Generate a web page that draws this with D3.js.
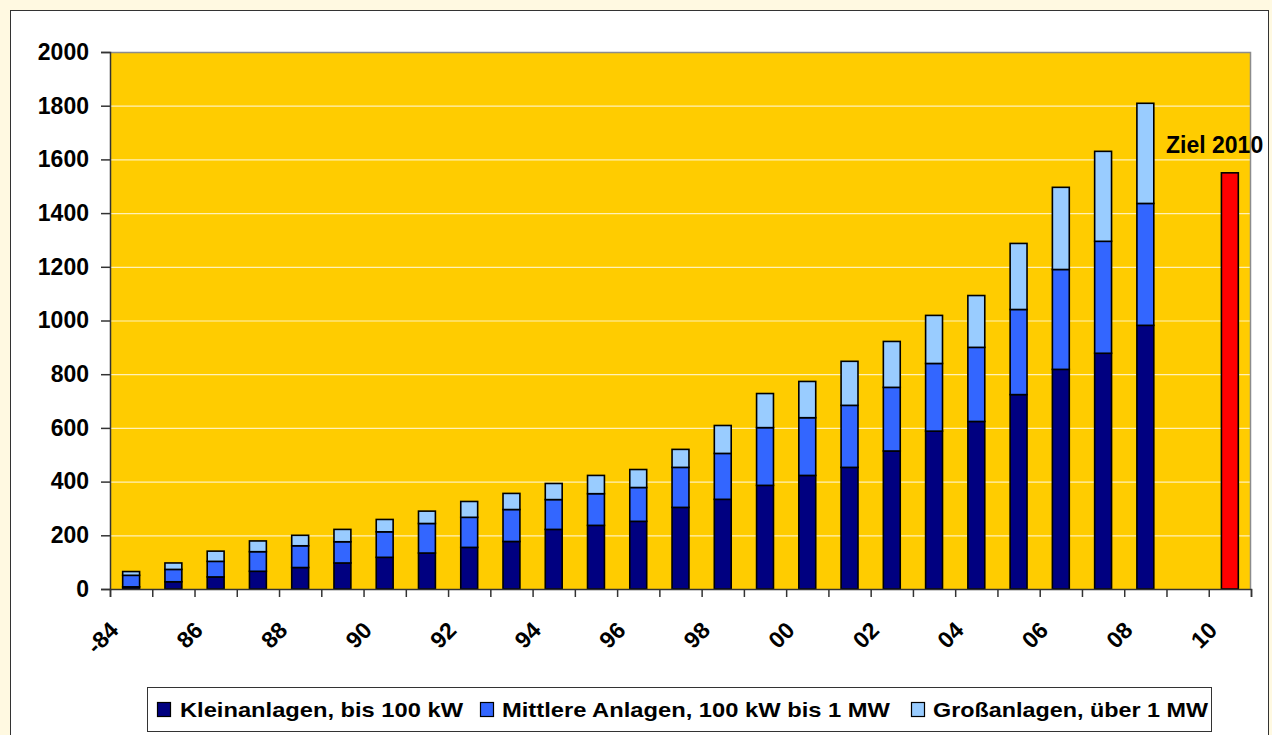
<!DOCTYPE html>
<html>
<head>
<meta charset="utf-8">
<script src="https://cdn.jsdelivr.net/npm/d3@7"></script>
<style>
  body { margin: 0; background: #fff9e1; }
  svg { display: block; font-family: "Liberation Sans", Arial, sans-serif; }
</style>
</head>
<body>
<div class="chart"></div>
<script>
// data
var years = d3.range(1984, 2011).map(String);
var yearLabels = ["-84", "86", "88", "90", "92", "94", "96", "98", "00", "02", "04", "06", "08", "10"];
var klein = [8, 27, 45, 66, 80, 97, 118, 134, 155, 177, 222, 237, 252, 304, 334, 386, 423, 453, 514, 588, 624, 724, 818, 878, 982, null, null];
var mittel = [43, 46, 58, 73, 81, 79, 95, 110, 112, 119, 111, 118, 126, 149, 171, 215, 215, 231, 237, 252, 276, 317, 372, 417, 454, null, null];
var gross = [14, 24, 38, 40, 39, 46, 46, 46, 59, 60, 60, 68, 67, 67, 104, 127, 135, 164, 171, 179, 193, 246, 306, 335, 373, null, null];
var zielYear = "2010";
var zielValue = 1550;
var seriesNames = ["Kleinanlagen, bis 100 kW", "Mittlere Anlagen, 100 kW bis 1 MW", "Großanlagen, über 1 MW"];
var seriesColors = ["#000080", "#3366ff", "#99ccff"];

var svgWidth = 1272;
var svgHeight = 735;
var plot = { left: 110, top: 52, right: 1251, bottom: 589 };

var svg = d3.select(".chart")
    .append("svg")
    .attr("width", svgWidth)
    .attr("height", svgHeight);

// white chart frame
svg.append("rect")
    .attr("x", 10.5).attr("y", 10.5)
    .attr("width", 1258).attr("height", 740)
    .attr("fill", "#fff")
    .attr("stroke", "#333")
    .attr("stroke-width", 1);

var x = d3.scaleBand()
    .domain(years)
    .range([plot.left, plot.right])
    .paddingInner(0.6)
    .paddingOuter(0.3);

var y = d3.scaleLinear()
    .domain([0, 2000])
    .range([plot.bottom, plot.top]);

// plot background
svg.append("rect")
    .attr("x", plot.left).attr("y", plot.top)
    .attr("width", plot.right - plot.left)
    .attr("height", plot.bottom - plot.top)
    .attr("fill", "#ffcc00");

// gridlines
svg.append("g")
    .selectAll("line")
    .data(y.ticks(10).filter(d => d > 0 && d < 2000))
    .enter().append("line")
    .attr("x1", plot.left).attr("x2", plot.right)
    .attr("y1", d => y(d) + 0.5).attr("y2", d => y(d) + 0.5)
    .attr("stroke", "#fff1b8")
    .attr("stroke-width", 1.2);

// border top/right
svg.append("path")
    .attr("d", `M${plot.left},${plot.top + 0.5}H${plot.right - 0.5}V${plot.bottom}`)
    .attr("fill", "none")
    .attr("stroke", "#8c8c8c")
    .attr("stroke-width", 1.5);

// stacked bars
var table = years.map(function(yr, i) {
    return { year: yr, klein: klein[i], mittel: mittel[i], gross: gross[i] };
}).filter(d => d.klein != null);

var stack = d3.stack().keys(["klein", "mittel", "gross"]);
var stacked = stack(table);

svg.append("g")
    .selectAll("g")
    .data(stacked)
    .enter().append("g")
    .attr("fill", (d, i) => seriesColors[i])
    .selectAll("rect")
    .data(d => d)
    .enter().append("rect")
    .attr("x", d => x(d.data.year))
    .attr("y", d => y(d[1]))
    .attr("width", x.bandwidth())
    .attr("height", d => y(d[0]) - y(d[1]))
    .attr("stroke", "#000")
    .attr("stroke-width", 1.6);

// target bar
svg.append("rect")
    .attr("x", x(zielYear))
    .attr("y", y(zielValue))
    .attr("width", x.bandwidth())
    .attr("height", y(0) - y(zielValue))
    .attr("fill", "#ff0000")
    .attr("stroke", "#000")
    .attr("stroke-width", 1.6);

svg.append("text")
    .attr("x", 1166)
    .attr("y", y(zielValue) - 20)
    .attr("font-size", 23)
    .attr("font-weight", "bold")
    .text("Ziel 2010");

// y axis
var leftAxis = d3.axisLeft(y)
    .tickValues(d3.range(0, 2001, 200))
    .tickFormat(d3.format("d"))
    .tickSize(9)
    .tickPadding(12);
var yAxis = svg.append("g")
    .attr("transform", `translate(${plot.left}, 0)`)
    .call(leftAxis);
yAxis.select(".domain").attr("stroke", "#333").attr("stroke-width", 1.5);
yAxis.selectAll(".tick line").attr("stroke", "#333").attr("stroke-width", 1.5);
yAxis.selectAll(".tick text")
    .attr("font-size", 23)
    .attr("font-weight", "bold")
    .attr("font-family", "Liberation Sans, Arial, sans-serif")
    .attr("fill", "#000");

// x axis: ticks at category boundaries
var xb = d3.scaleLinear().domain([0, years.length]).range([plot.left, plot.right]);
var bottomAxis = d3.axisBottom(xb).tickValues(d3.range(0, years.length + 1)).tickSize(8).tickFormat("");
var xAxis = svg.append("g")
    .attr("transform", `translate(0, ${plot.bottom})`)
    .call(bottomAxis);
xAxis.select(".domain").attr("stroke", "#333").attr("stroke-width", 1.5);
xAxis.selectAll(".tick line").attr("stroke", "#333").attr("stroke-width", 1.5);

svg.append("g")
    .selectAll("text")
    .data(yearLabels)
    .enter().append("text")
    .attr("transform", (d, i) => {
        var cx = x(years[i * 2]) + x.bandwidth() / 2;
        return `translate(${cx - 17}, 626) rotate(-45)`;
    })
    .attr("text-anchor", "end")
    .attr("dy", "0.35em")
    .attr("font-size", 23)
    .attr("font-weight", "bold")
    .text(d => d);

// legend
var legend = svg.append("g");
legend.append("rect")
    .attr("x", 147.5).attr("y", 687.5)
    .attr("width", 1064).attr("height", 44)
    .attr("fill", "#fff")
    .attr("stroke", "#333")
    .attr("stroke-width", 1);

var legendX = [157, 480, 911];
var legendTextX = [180, 502, 933];
var legendTextW = [283, 388, 275];

var items = legend.selectAll(".item")
    .data(seriesNames)
    .enter().append("g")
    .attr("class", "item");
items.append("rect")
    .attr("x", (d, i) => legendX[i] + 0.5)
    .attr("y", 702.5)
    .attr("width", 13).attr("height", 14)
    .attr("fill", (d, i) => seriesColors[i])
    .attr("stroke", "#000")
    .attr("stroke-width", 1.2);
items.append("text")
    .attr("x", (d, i) => legendTextX[i])
    .attr("y", 717)
    .attr("font-size", 21)
    .attr("font-weight", "bold")
    .attr("textLength", (d, i) => legendTextW[i])
    .attr("lengthAdjust", "spacingAndGlyphs")
    .text(d => d);
</script>
</body>
</html>
